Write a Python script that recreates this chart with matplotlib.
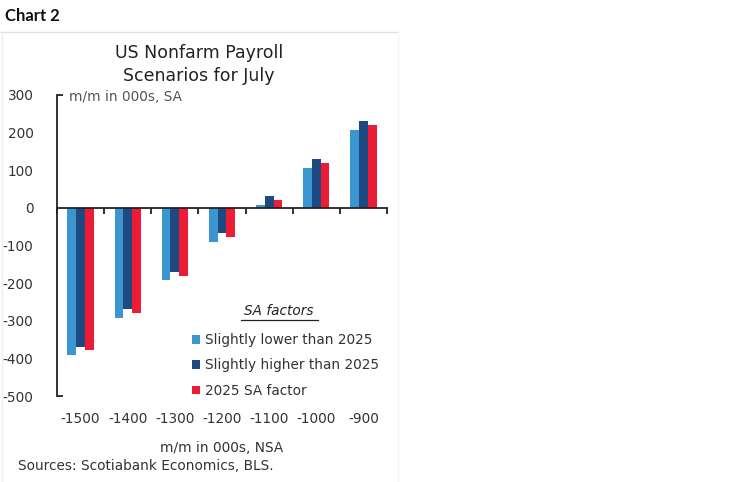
import matplotlib
matplotlib.use("Agg")
import matplotlib.pyplot as plt
import numpy as np
from matplotlib.lines import Line2D
from matplotlib.patches import Patch

categories = ["-1500", "-1400", "-1300", "-1200", "-1100", "-1000", "-900"]
slightly_lower = [-392, -294, -192, -91, 7, 107, 206]
slightly_higher = [-370, -270, -170, -67, 31, 131, 230]
sa_2025 = [-378, -279, -180, -78, 20, 120, 221]
series_names = ["Slightly lower than 2025", "Slightly higher than 2025", "2025 SA factor"]
colors = ["#3b95d0", "#1d4a80", "#ed1b34"]
yticks = [300, 200, 100, 0, -100, -200, -300, -400, -500]

W, H = 749, 482
fig = plt.figure(figsize=(W / 100, H / 100), dpi=100)
plt.rcParams['font.family'] = ['DejaVu Sans']
txt = "#333333"
fs = 9.8

# axes placement
L, R, T, B = 57, 387, 95, 396
ax = fig.add_axes([L / W, 1 - B / H, (R - L) / W, (B - T) / H])

x = np.arange(len(categories))
w = 0.185
for i, (vals, c) in enumerate(zip([slightly_lower, slightly_higher, sa_2025], colors)):
    ax.bar(x + (i - 1) * w, vals, width=w, color=c, zorder=2)

ax.set_xlim(-0.5, len(categories) - 0.5)
ax.set_ylim(-500, 300)

for s in ["top", "right"]:
    ax.spines[s].set_visible(False)
ax.spines["bottom"].set_position(("data", 0))
for s in ["bottom", "left"]:
    ax.spines[s].set_linewidth(1.3)
    ax.spines[s].set_color("#222222")

# y ticks: only the end caps drawn (pointing inward)
ax.set_yticks(yticks)
ax.set_yticklabels([str(v) for v in yticks])
ax.tick_params(axis="y", which="major", direction="in", length=4, width=1.3, color="#222222",
               pad=17, labelsize=fs, labelcolor=txt)
for t in ax.yaxis.get_major_ticks()[1:-1]:
    t.tick1line.set_visible(False)

# x ticks: boundaries as minor ticks, labels at bottom
ax.set_xticks(np.arange(-0.5, len(categories), 1.0), minor=True)
ax.tick_params(axis="x", which="minor", direction="out", length=4, width=1.3, color="#222222")
ax.set_xticks(x)
ax.set_xticklabels(categories)
zero_px = T + (B - T) * (300 - 0) / 800
pad_pt = (412 - zero_px) * 0.72
ax.tick_params(axis="x", which="major", length=0, pad=pad_pt, labelsize=fs, labelcolor=txt)

# inside label
fig.text(69 / W, 1 - 97 / H, "m/m in 000s, SA", fontsize=fs, color="#555555", ha="left", va="center")

# legend
handles = [Patch(facecolor=c, edgecolor="none") for c in colors]
ax.legend(handles, series_names, loc="upper left",
          bbox_to_anchor=((192 - L) / (R - L), (B - 333) / (B - T)),
          frameon=False, fontsize=fs, handlelength=0.6, handleheight=0.6, handletextpad=0.35,
          labelspacing=0.84, borderpad=0, borderaxespad=0, labelcolor=txt)
fig.text(279 / W, 1 - 311 / H, "SA factors", fontsize=fs, style="italic", ha="center", va="center",
         color="#222222")
fig.add_artist(Line2D([241 / W, 318 / W], [1 - 320 / H, 1 - 320 / H], color="#222222", lw=0.9))

# titles & texts
fig.text(5 / W, 1 - 16 / H, "Chart 2", fontsize=12, fontweight="bold", family="Lato", ha="left", va="center",
         color="#111111")
fig.add_artist(Line2D([0, 398 / W], [1 - 32 / H, 1 - 32 / H], color="#e0e0e0", lw=1))
fig.add_artist(Line2D([2 / W, 2 / W], [0, 1 - 32 / H], color="#eeeeee", lw=1))
fig.add_artist(Line2D([398 / W, 398 / W], [0, 1 - 32 / H], color="#f4f4f4", lw=1))
fig.text(199 / W, 1 - 64.5 / H, "US Nonfarm Payroll\nScenarios for July", fontsize=12.5, ha="center",
         va="center", linespacing=1.35, color="#222222")
fig.text(222 / W, 1 - 448 / H, "m/m in 000s, NSA", fontsize=fs, ha="center", va="center", color=txt)
fig.text(18 / W, 1 - 466 / H, "Sources: Scotiabank Economics, BLS.", fontsize=fs, ha="left", va="center",
         color=txt)

fig.savefig("out.png", dpi=100)
